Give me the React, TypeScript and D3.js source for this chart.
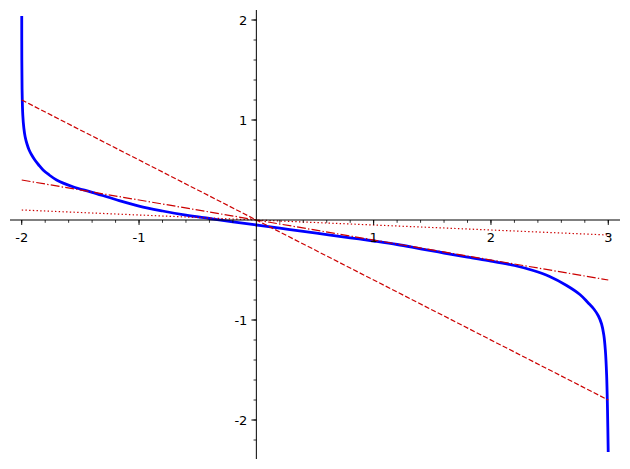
import React from "react";
import * as d3 from "d3";

// Blue curve
const curveX = [
  -1.9999, -1.9992, -1.997, -1.991, -1.982, -1.971, -1.955, -1.937, -1.915,
  -1.888, -1.855, -1.818, -1.765, -1.703, -1.564, -1.4, -1.2, -1.0, -0.8, -0.6,
  -0.4, -0.2, 0, 0.2, 0.4, 0.6, 0.8, 1.0, 1.2, 1.4, 1.6, 1.8, 2.0, 2.2, 2.36,
  2.5, 2.645, 2.758, 2.826, 2.877, 2.916, 2.943, 2.962, 2.975, 2.986, 2.9935,
  2.9995,
];
const curveY = [
  2.04, 1.6, 1.3, 1.05, 0.92, 0.833, 0.76, 0.7, 0.65, 0.6, 0.55, 0.5, 0.45, 0.4,
  0.333, 0.277, 0.205, 0.139, 0.09, 0.048, 0.015, -0.018, -0.05, -0.082, -0.113,
  -0.146, -0.178, -0.21, -0.245, -0.288, -0.33, -0.372, -0.41, -0.455, -0.505,
  -0.565, -0.655, -0.745, -0.825, -0.89, -0.96, -1.04, -1.15, -1.3, -1.55, -1.9,
  -2.32,
];

// Red straight lines: value at x = -2 and x = 3
const lineStartX = -2;
const lineEndX = 3;
const lineStartY = [1.2, 0.4, 0.1];
const lineEndY = [-1.8, -0.6, -0.15];
const lineStyles = ["dashed", "dashdot", "dotted"];

const xMajorTicks = [-2, -1, 1, 2, 3];
const yMajorTicks = [-2, -1, 1, 2];
const xMinorTicks = [
  -2, -1.8, -1.6, -1.4, -1.2, -1, -0.8, -0.6, -0.4, -0.2, 0.2, 0.4, 0.6, 0.8, 1,
  1.2, 1.4, 1.6, 1.8, 2, 2.2, 2.4, 2.6, 2.8, 3,
];
const yMinorTicks = [
  -2.2, -2, -1.8, -1.6, -1.4, -1.2, -1, -0.8, -0.6, -0.4, -0.2, 0.2, 0.4, 0.6,
  0.8, 1, 1.2, 1.4, 1.6, 1.8, 2,
];

const W = 630;
const H = 469;

export default function App() {
  const x = d3.scaleLinear().domain([-2.1, 3.1]).range([10, 620]);
  const y = d3.scaleLinear().domain([-2.39, 2.1]).range([459, 10]);

  const pts: [number, number][] = curveX.map((v, i) => [v, curveY[i]]);
  const line = d3
    .line<[number, number]>()
    .x((d) => x(d[0]))
    .y((d) => y(d[1]))
    .curve(d3.curveCatmullRom.alpha(0.5));

  const dashes: Record<string, string> = {
    dashed: "5.1 2.2",
    dashdot: "8.9 2.2 1.4 2.2",
    dotted: "1.4 2.3",
  };

  const x0 = x(0);
  const y0 = y(0);
  const font = "DejaVu Sans, sans-serif";

  return (
    <svg
      width={W}
      height={H}
      style={{ position: "absolute", left: 0, top: 0, background: "#fff" }}
    >
      <rect width={W} height={H} fill="#fff" />
      <path d={line(pts) || ""} fill="none" stroke="#0000ff" strokeWidth={2.8} />
      {lineStartY.map((sy, i) => (
        <line
          key={i}
          x1={x(lineStartX)}
          y1={y(sy)}
          x2={x(lineEndX)}
          y2={y(lineEndY[i])}
          stroke="#cc0000"
          strokeWidth={1.2}
          strokeDasharray={dashes[lineStyles[i]]}
        />
      ))}
      {/* axes */}
      <line x1={10} x2={620} y1={y0} y2={y0} stroke="#000" strokeWidth={1} />
      <line x1={x0} x2={x0} y1={10} y2={459} stroke="#000" strokeWidth={1} />
      {xMinorTicks.map((t) => (
        <line key={"xm" + t} x1={x(t)} x2={x(t)} y1={y0} y2={y0 + 2.8} stroke="#000" strokeWidth={0.8} />
      ))}
      {yMinorTicks.map((t) => (
        <line key={"ym" + t} x1={x0 - 2.8} x2={x0} y1={y(t)} y2={y(t)} stroke="#000" strokeWidth={0.8} />
      ))}
      {xMajorTicks.map((t) => (
        <g key={"xt" + t}>
          <line x1={x(t)} x2={x(t)} y1={y0} y2={y0 + 4.9} stroke="#000" strokeWidth={1} />
          <text x={x(t)} y={y0 + 22} textAnchor="middle" fontFamily={font} fontSize={13} fill="#000">
            {String(t)}
          </text>
        </g>
      ))}
      {yMajorTicks.map((t) => (
        <g key={"yt" + t}>
          <line x1={x0 - 4.9} x2={x0} y1={y(t)} y2={y(t)} stroke="#000" strokeWidth={1} />
          <text x={x0 - 9} y={y(t) + 4.8} textAnchor="end" fontFamily={font} fontSize={13} fill="#000">
            {String(t)}
          </text>
        </g>
      ))}
    </svg>
  );
}
